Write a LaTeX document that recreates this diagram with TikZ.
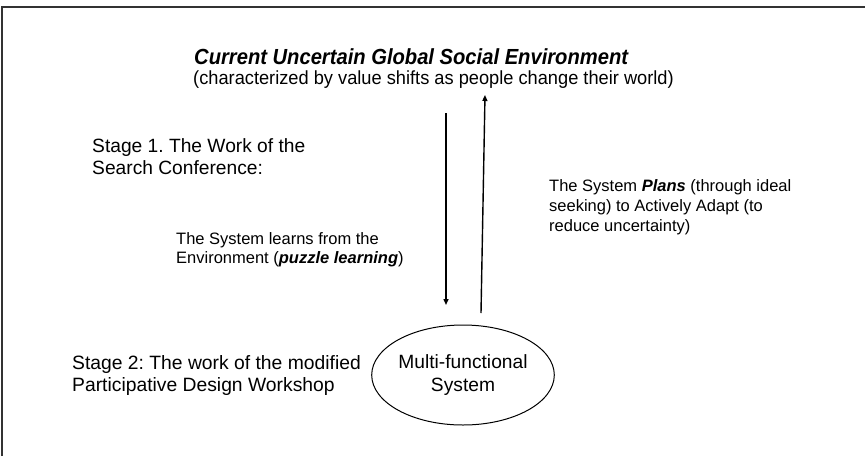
\documentclass[tikz,border=0pt]{standalone}
\usepackage{fontspec}
\setmainfont{Liberation Sans}
\usetikzlibrary{shapes.geometric,arrows.meta}
\frenchspacing

\tikzset{
	txt/.style={anchor=west, align=left, inner sep=0pt},
	link/.style={line width=1.4pt, -{Triangle[length=6pt,width=5pt]}},
}

\begin{document}
\begin{tikzpicture}[x=1pt, y=-1pt]
			%%%%% START %%%%%
			
			\useasboundingbox (0, 0) rectangle (865, 456);
			\draw[line width=2pt, color=black!80] (2, 456) -- (2, 7) -- (865, 7);
			
			\node[txt, font=\fontsize{20.8}{24}\selectfont] (env) at (194, 57) {\scalebox{0.97}[1.05]{\textbf{\textit{Current Uncertain Global Social Environment}}}};
			\node[txt, font=\fontsize{19}{23}\selectfont] (envNote) at (193, 80) {\scalebox{0.96}[1]{(characterized by value shifts as people change their world)}};
			
			\node[txt, font=\fontsize{19.2}{22}\selectfont] (stageA) at (92, 157) {Stage 1. The Work of the\\Search Conference:};
			\node[txt, font=\fontsize{16.5}{19}\selectfont] (learn) at (176, 250) {The System learns from the\\Environment (\textbf{\textit{puzzle learning}})};
			\node[txt, font=\fontsize{16.5}{20}\selectfont] (plans) at (549, 207) {The System \textbf{\textit{Plans}} (through ideal\\seeking) to Actively Adapt (to\\reduce uncertainty)};
			\node[txt, font=\fontsize{19.3}{22}\selectfont] (stageB) at (72, 376) {Stage 2: The work of the modified\\Participative Design Workshop};
			
			\node[draw, ellipse, line width=1pt, minimum width=163, minimum height=100, inner sep=0pt, align=center, font=\fontsize{19.2}{23}\selectfont] (sys) at (463, 375) {Multi-functional\\System};
			
			\coordinate (downA) at (446, 113);
			\coordinate (downB) at (446, 305);
			\coordinate (upA) at (481, 313);
			\coordinate (upB) at (485, 95);
			\draw[link] (downA) -- (downB);
			\draw[link] (upA) -- (upB);
			
			%%%%% END %%%%%
\end{tikzpicture}
\end{document}
